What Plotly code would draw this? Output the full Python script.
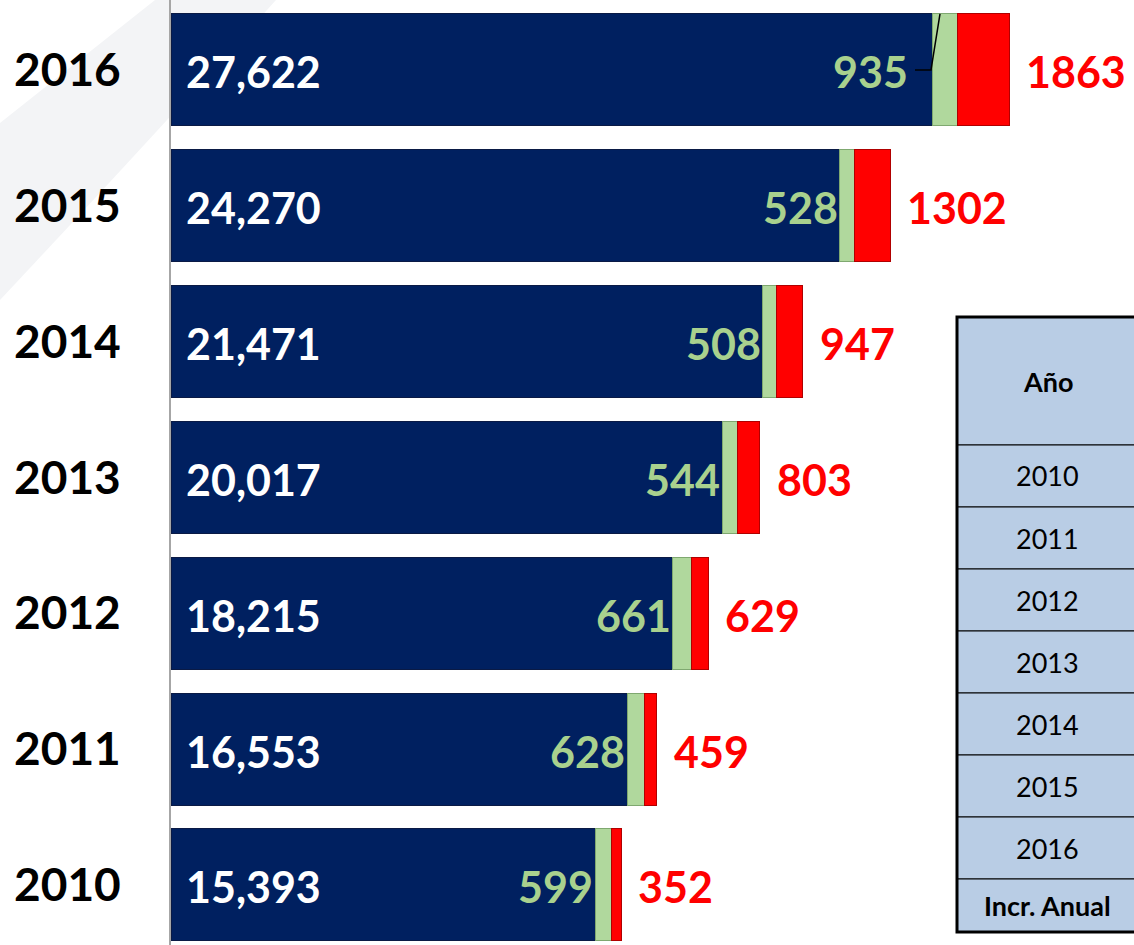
import plotly.graph_objects as go

years = ["2010", "2011", "2012", "2013", "2014", "2015", "2016"]
navy_vals = [15393, 16553, 18215, 20017, 21471, 24270, 27622]
green_vals = [599, 628, 661, 544, 508, 528, 935]
red_vals = [352, 459, 629, 803, 947, 1302, 1863]
table_header = "Año"
table_rows = ["2010", "2011", "2012", "2013", "2014", "2015", "2016", "Incr. Anual"]

W, H = 1134, 945
NAVY = "#002060"
GREEN = "#B0D89D"
GREEN_TXT = "#A9D18E"
RED = "#FF0000"
TABLE_FILL = "#B9CDE5"
FONT = "Lato"

fig = go.Figure()
bw = 0.825
fig.add_trace(go.Bar(y=years, x=navy_vals, orientation="h", width=bw,
                     marker=dict(color=NAVY, line=dict(color="#0A1A45", width=1)),
                     hoverinfo="x"))
fig.add_trace(go.Bar(y=years, x=green_vals, orientation="h", width=bw,
                     marker=dict(color=GREEN, line=dict(color="#7FA870", width=1)),
                     hoverinfo="x"))
fig.add_trace(go.Bar(y=years, x=red_vals, orientation="h", width=bw,
                     marker=dict(color=RED, line=dict(color="#B00000", width=1)),
                     hoverinfo="x"))

ann = []
for i, y in enumerate(years):
    n, g, r = navy_vals[i], green_vals[i], red_vals[i]
    ann.append(dict(x=0, y=i, xref="x", yref="y", text=f"<b>{n:,}</b>", showarrow=False,
                    xanchor="left", xshift=13, yshift=-2,
                    font=dict(family=FONT, size=43, color="white")))
    gshift = -22 if y == "2016" else 0
    ann.append(dict(x=n, y=i, xref="x", yref="y", text=f"<b>{g}</b>", showarrow=False,
                    xanchor="right", xshift=gshift, yshift=-2,
                    font=dict(family=FONT, size=43, color=GREEN_TXT)))
    ann.append(dict(x=n + g + r, y=i, xref="x", yref="y", text=f"<b>{r}</b>", showarrow=False,
                    xanchor="left", xshift=15, yshift=-2,
                    font=dict(family=FONT, size=43, color=RED)))


def px2paper(px, py):
    return px / W, 1 - py / H


p0 = px2paper(0, 123); p1 = px2paper(155, 0); p2 = px2paper(276, 0)
q = px2paper(150, 140); e = px2paper(0, 300)
band = (f"M {p0[0]},{p0[1]} L {p1[0]},{p1[1]} L {p2[0]},{p2[1]} "
        f"Q {q[0]},{q[1]} {e[0]},{e[1]} Z")

shapes = [
    dict(type="path", xref="paper", yref="paper", path=band, fillcolor="#F3F4F6",
         line=dict(width=0), layer="below"),
    # leader line for the 2016 green label
    dict(type="path", xref="x", yref="y", xsizemode="pixel", ysizemode="pixel",
         xanchor=navy_vals[-1], yanchor=6,
         path="M -17,0 L -1,0 L 8,56", line=dict(color="black", width=1.5)),
]

# table drawn as shapes + text (paper coordinates)
tx0, tx1 = 957 / W, 1.01
header_h, row_h, last_h = 128, 62, 53
top = 317
bounds = [top, top + header_h]
for k in range(len(table_rows)):
    bounds.append(bounds[-1] + (last_h if k == len(table_rows) - 1 else row_h))
texts = [f"<b>{table_header}</b>"] + table_rows[:-1] + [f"<b>{table_rows[-1]}</b>"]
for k, t in enumerate(texts):
    ya, yb = bounds[k], bounds[k + 1]
    shapes.append(dict(type="rect", xref="paper", yref="paper", x0=tx0, x1=tx1,
                       y0=1 - yb / H, y1=1 - ya / H, fillcolor=TABLE_FILL,
                       line=dict(color="black", width=1.2), layer="above"))
    ann.append(dict(x=(957 + 1138) / 2 / W, y=1 - (ya + yb) / 2 / H, xref="paper", yref="paper",
                    text=t, showarrow=False, xanchor="center", yanchor="middle",
                    font=dict(family=FONT, size=27, color="black")))
shapes.append(dict(type="rect", xref="paper", yref="paper", x0=tx0, x1=tx1,
                   y0=1 - bounds[-1] / H, y1=1 - bounds[0] / H,
                   line=dict(color="black", width=3), layer="above"))

x_left = 171 / W
x_max = (W - 171) / (761 / 27622)

fig.update_layout(
    width=W, height=H, barmode="stack", showlegend=False,
    margin=dict(l=0, r=0, t=0, b=0),
    paper_bgcolor="white", plot_bgcolor="rgba(0,0,0,0)",
    xaxis=dict(domain=[x_left, 1], range=[0, x_max], showline=False, showgrid=False,
               zeroline=False, showticklabels=False, ticks="", fixedrange=True),
    yaxis=dict(type="category", categoryorder="array", categoryarray=years,
               range=[-0.442, 6.515], domain=[0, 1], showline=True, linecolor="#A6A6A6",
               linewidth=2, showgrid=False, ticks="", ticklabelstandoff=39,
               tickfont=dict(family=FONT, size=46, color="black"),
               tickvals=years, ticktext=[f"<b>{y}</b>" for y in years],
               automargin=False, fixedrange=True),
    annotations=ann, shapes=shapes,
)

fig.write_html("out.html", config={"displayModeBar": False},
               post_script="document.body.style.margin='0';document.body.style.padding='0';")
